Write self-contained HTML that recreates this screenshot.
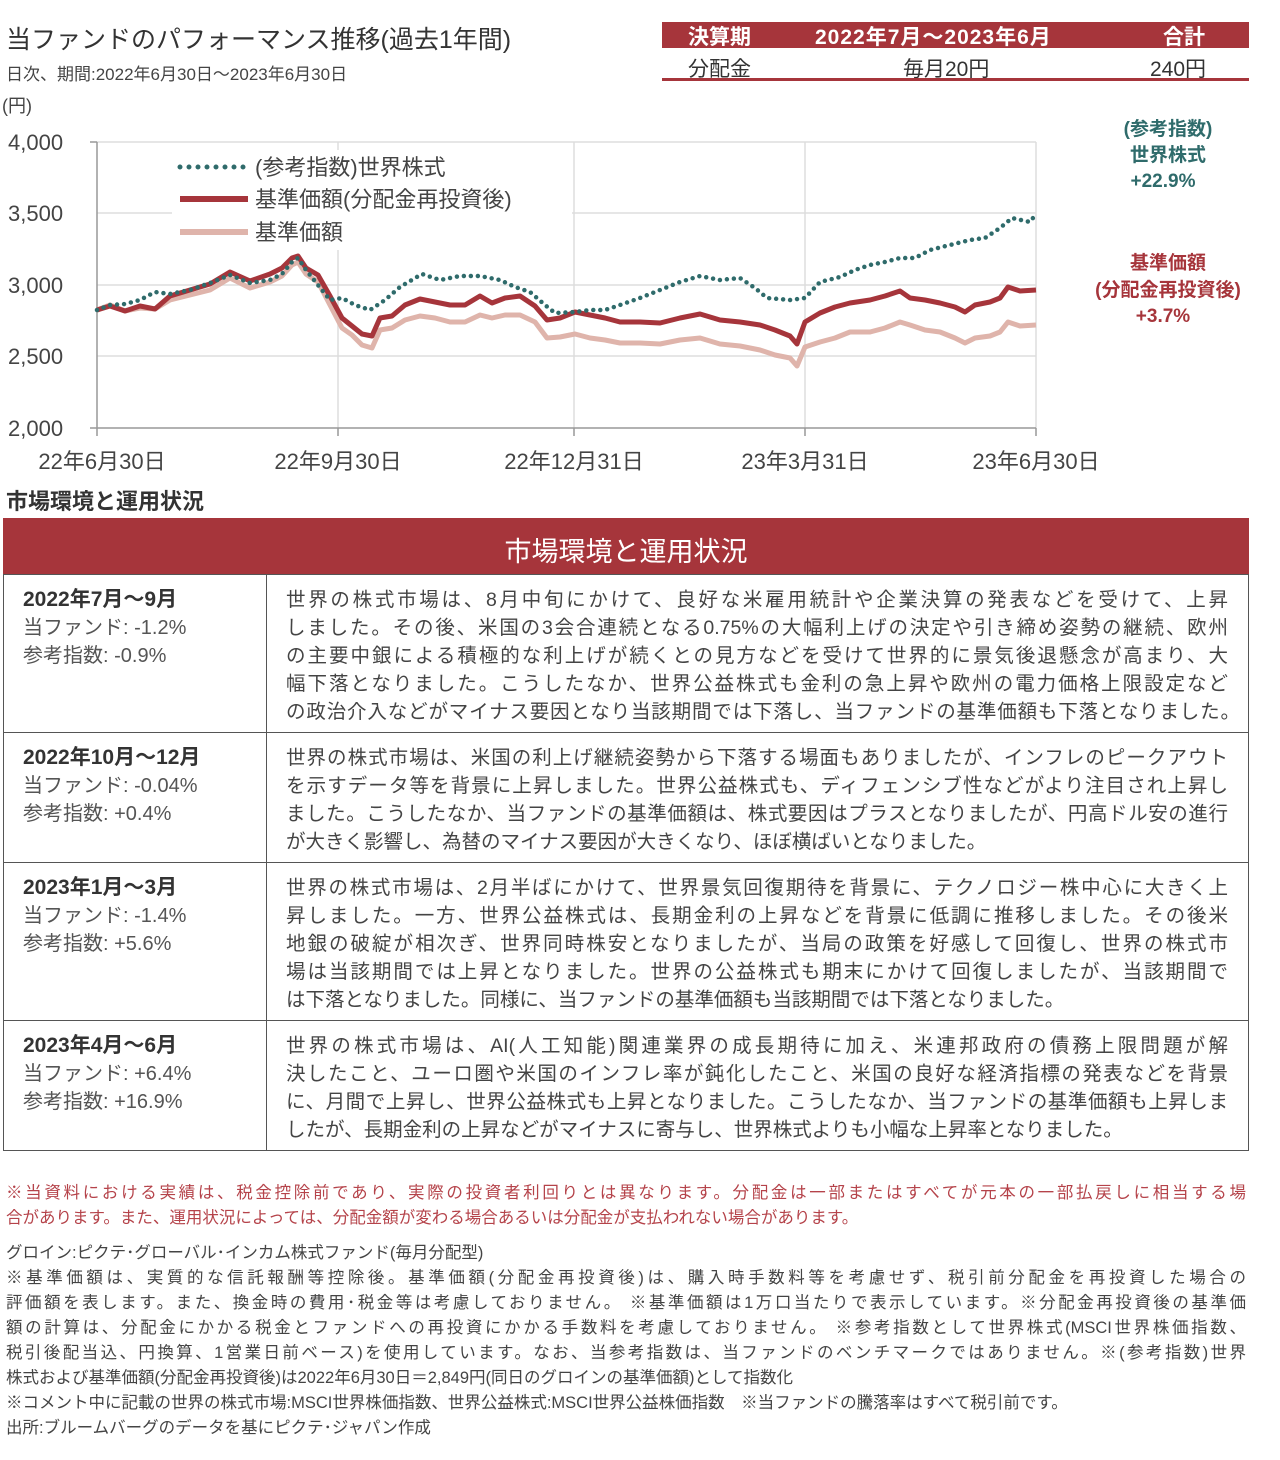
<!DOCTYPE html>
<html><head><meta charset="utf-8"><style>
body{margin:0;width:1280px;height:1460px;background:#fff;position:relative;font-family:"Liberation Sans","Noto Sans CJK JP",sans-serif;color:#333;overflow:hidden}
.a{position:absolute;white-space:nowrap}
.j{position:absolute;white-space:nowrap;text-align:justify;text-align-last:justify}
.cell{position:absolute;border:1px solid #555;box-sizing:border-box}
</style></head><body>
<div class="a" style="left:6px;top:20px;font-size:25px;color:#333">当ファンドのパフォーマンス推移(過去1年間)</div>
<div class="a" style="left:6px;top:60px;font-size:17px;color:#444">日次、期間:2022年6月30日～2023年6月30日</div>
<div class="a" style="left:2px;top:92px;font-size:18px;color:#444">(円)</div>

<div class="a" style="left:662px;top:22px;width:587px;height:26px;background:#a6353b"></div>
<div class="a" style="left:688px;top:21px;font-size:21px;color:#fff;font-weight:bold">決算期</div>
<div class="a" style="left:815px;top:21px;font-size:21px;color:#fff;font-weight:bold;letter-spacing:1px">2022年7月～2023年6月</div>
<div class="a" style="left:1163px;top:21px;font-size:21px;color:#fff;font-weight:bold">合計</div>
<div class="a" style="left:688px;top:53px;font-size:21px;color:#333">分配金</div>
<div class="a" style="left:903px;top:53px;font-size:21px;color:#333">毎月20円</div>
<div class="a" style="left:1150px;top:53px;font-size:21px;color:#333">240円</div>
<div class="a" style="left:662px;top:78px;width:587px;height:3px;background:#a6353b"></div>

<svg class="a" style="left:0;top:0" width="1280" height="480">
<g stroke="#ddd" stroke-width="1.5">
<line x1="97" y1="142" x2="1036" y2="142"/><line x1="97" y1="213" x2="1036" y2="213"/>
<line x1="97" y1="285" x2="1036" y2="285"/><line x1="97" y1="356" x2="1036" y2="356"/>
<line x1="338" y1="142" x2="338" y2="428"/><line x1="574" y1="142" x2="574" y2="428"/>
<line x1="805" y1="142" x2="805" y2="428"/><line x1="1036" y1="142" x2="1036" y2="428"/>
</g>
<g stroke="#999" stroke-width="1.5">
<line x1="97" y1="142" x2="97" y2="428"/><line x1="90" y1="428" x2="1036" y2="428"/>
<line x1="90" y1="142" x2="97" y2="142"/>
<line x1="97" y1="428" x2="97" y2="436"/><line x1="338" y1="428" x2="338" y2="436"/><line x1="574" y1="428" x2="574" y2="436"/><line x1="805" y1="428" x2="805" y2="436"/><line x1="1036" y1="428" x2="1036" y2="436"/>
</g>
<g font-size="22" fill="#444" font-family="Liberation Sans,Noto Sans CJK JP,sans-serif">
<text x="8" y="150">4,000</text><text x="8" y="221">3,500</text><text x="8" y="293">3,000</text><text x="8" y="364">2,500</text><text x="8" y="436">2,000</text>
<text x="102" y="469" text-anchor="middle">22年6月30日</text>
<text x="338" y="469" text-anchor="middle">22年9月30日</text>
<text x="574" y="469" text-anchor="middle">22年12月31日</text>
<text x="805" y="469" text-anchor="middle">23年3月31日</text>
<text x="1036" y="469" text-anchor="middle">23年6月30日</text>
</g>
<polyline fill="none" stroke="#dfb4ab" stroke-width="5" stroke-linejoin="round" points="97,310 110,305 125,311 140,308 155,309 170,300 190,295 210,290 230,278 250,288 270,282 282,276 292,265 298,262 306,274 318,282 330,305 342,328 352,335 362,345 372,348 380,330 392,328 405,320 420,316 435,318 450,322 465,322 480,315 492,318 505,315 520,315 535,322 547,338 560,337 575,334 590,338 605,340 620,343 640,343 660,344 680,340 700,338 720,344 740,346 760,350 775,355 790,358 797,366 805,347 820,342 835,338 850,332 870,332 885,328 900,322 910,325 925,330 940,332 955,338 965,343 975,338 990,336 1000,332 1008,322 1020,326 1036,325"/>
<polyline fill="none" stroke="#a6353b" stroke-width="5" stroke-linejoin="round" points="97,310 110,306 125,311 140,306 155,309 170,296 190,290 210,284 230,272 250,281 270,274 282,268 292,258 298,256 306,268 318,275 330,296 342,318 352,326 362,334 372,336 380,318 392,316 405,305 420,299 435,302 450,305 465,305 480,296 492,303 505,298 520,296 535,306 547,320 560,318 575,312 590,315 605,318 620,322 640,322 660,323 680,318 700,314 720,320 740,322 760,325 775,330 790,336 797,344 805,322 820,313 835,307 850,303 870,300 885,296 900,291 910,298 925,300 940,303 955,307 965,312 975,305 990,302 1000,298 1008,287 1020,291 1036,290"/>
<polyline fill="none" stroke="#2f6b6b" stroke-width="4.5" stroke-linecap="round" stroke-dasharray="0 7" points="97,310 110,305 125,304 140,300 155,292 170,294 190,290 210,283 230,275 250,283 270,280 282,274 292,262 298,258 306,270 318,285 330,300 342,298 355,305 370,310 385,300 400,287 422,274 440,280 460,276 480,276 500,280 515,287 530,292 545,305 555,313 575,312 590,310 605,310 620,305 640,298 660,290 680,282 700,276 720,280 740,278 755,288 767,298 790,300 805,298 820,282 840,277 855,270 870,265 885,262 900,258 915,258 930,250 950,245 970,240 985,238 1000,228 1012,218 1030,222 1036,214"/>
<rect x="172" y="150" width="400" height="100" fill="#fff"/>
<line x1="180" y1="167" x2="245" y2="167" stroke="#2f6b6b" stroke-width="5" stroke-linecap="round" stroke-dasharray="0 9"/>
<line x1="180" y1="199" x2="248" y2="199" stroke="#a6353b" stroke-width="6"/>
<line x1="180" y1="232" x2="248" y2="232" stroke="#dfb4ab" stroke-width="6"/>
<g font-size="22" fill="#444" font-family="Liberation Sans,Noto Sans CJK JP,sans-serif">
<text x="255" y="175">(参考指数)世界株式</text>
<text x="255" y="207">基準価額(分配金再投資後)</text>
<text x="255" y="240">基準価額</text>
</g>
<g font-size="19" font-weight="bold" text-anchor="middle" font-family="Liberation Sans,Noto Sans CJK JP,sans-serif">
<text x="1168" y="135" fill="#2f6b6b">(参考指数)</text>
<text x="1168" y="161" fill="#2f6b6b">世界株式</text>
<text x="1163" y="187" fill="#2f6b6b">+22.9%</text>
<text x="1168" y="269" fill="#a6353b">基準価額</text>
<text x="1168" y="296" fill="#a6353b">(分配金再投資後)</text>
<text x="1163" y="322" fill="#a6353b">+3.7%</text>
</g>
</svg>

<div class="a" style="left:6px;top:484px;font-size:22px;font-weight:bold;color:#333">市場環境と運用状況</div>
<div class="a" style="left:3px;top:518px;width:1246px;height:57px;background:#a6353b"></div>
<div class="a" style="left:3px;top:530px;width:1246px;text-align:center;font-size:27px;color:#fff">市場環境と運用状況</div>

<div class="cell" style="left:3px;top:574px;width:264px;height:159px"></div>
<div class="cell" style="left:266px;top:574px;width:983px;height:159px"></div>
<div class="cell" style="left:3px;top:732px;width:264px;height:131px"></div>
<div class="cell" style="left:266px;top:732px;width:983px;height:131px"></div>
<div class="cell" style="left:3px;top:862px;width:264px;height:159px"></div>
<div class="cell" style="left:266px;top:862px;width:983px;height:159px"></div>
<div class="cell" style="left:3px;top:1020px;width:264px;height:131px"></div>
<div class="cell" style="left:266px;top:1020px;width:983px;height:131px"></div>

<div style="position:absolute;left:23px;top:586px;font-size:21px;line-height:28px;color:#333;white-space:nowrap"><b style="font-weight:600">2022年7月～9月</b><br><span style="font-size:20px;color:#555">当ファンド: -1.2%<br>参考指数: -0.9%</span></div>
<div style="position:absolute;left:23px;top:744px;font-size:21px;line-height:28px;color:#333;white-space:nowrap"><b style="font-weight:600">2022年10月～12月</b><br><span style="font-size:20px;color:#555">当ファンド: -0.04%<br>参考指数: +0.4%</span></div>
<div style="position:absolute;left:23px;top:874px;font-size:21px;line-height:28px;color:#333;white-space:nowrap"><b style="font-weight:600">2023年1月～3月</b><br><span style="font-size:20px;color:#555">当ファンド: -1.4%<br>参考指数: +5.6%</span></div>
<div style="position:absolute;left:23px;top:1032px;font-size:21px;line-height:28px;color:#333;white-space:nowrap"><b style="font-weight:600">2023年4月～6月</b><br><span style="font-size:20px;color:#555">当ファンド: +6.4%<br>参考指数: +16.9%</span></div>

<div style="position:absolute;left:286px;top:586px;font-size:19.5px;line-height:28px;color:#444">
<div class="j" style="position:relative;width:942px">世界の株式市場は、8月中旬にかけて、良好な米雇用統計や企業決算の発表などを受けて、上昇</div>
<div class="j" style="position:relative;width:942px">しました。その後、米国の3会合連続となる0.75%の大幅利上げの決定や引き締め姿勢の継続、欧州</div>
<div class="j" style="position:relative;width:942px">の主要中銀による積極的な利上げが続くとの見方などを受けて世界的に景気後退懸念が高まり、大</div>
<div class="j" style="position:relative;width:942px">幅下落となりました。こうしたなか、世界公益株式も金利の急上昇や欧州の電力価格上限設定など</div>
<div class="j" style="position:relative;width:954px">の政治介入などがマイナス要因となり当該期間では下落し、当ファンドの基準価額も下落となりました。</div>
</div>
<div style="position:absolute;left:286px;top:744px;font-size:19.5px;line-height:28px;color:#444">
<div class="j" style="position:relative;width:942px">世界の株式市場は、米国の利上げ継続姿勢から下落する場面もありましたが、インフレのピークアウト</div>
<div class="j" style="position:relative;width:942px">を示すデータ等を背景に上昇しました。世界公益株式も、ディフェンシブ性などがより注目され上昇し</div>
<div class="j" style="position:relative;width:942px">ました。こうしたなか、当ファンドの基準価額は、株式要因はプラスとなりましたが、円高ドル安の進行</div>
<div class="a" style="position:relative">が大きく影響し、為替のマイナス要因が大きくなり、ほぼ横ばいとなりました。</div>
</div>
<div style="position:absolute;left:286px;top:874px;font-size:19.5px;line-height:28px;color:#444">
<div class="j" style="position:relative;width:942px">世界の株式市場は、2月半ばにかけて、世界景気回復期待を背景に、テクノロジー株中心に大きく上</div>
<div class="j" style="position:relative;width:942px">昇しました。一方、世界公益株式は、長期金利の上昇などを背景に低調に推移しました。その後米</div>
<div class="j" style="position:relative;width:942px">地銀の破綻が相次ぎ、世界同時株安となりましたが、当局の政策を好感して回復し、世界の株式市</div>
<div class="j" style="position:relative;width:942px">場は当該期間では上昇となりました。世界の公益株式も期末にかけて回復しましたが、当該期間で</div>
<div class="a" style="position:relative">は下落となりました。同様に、当ファンドの基準価額も当該期間では下落となりました。</div>
</div>
<div style="position:absolute;left:286px;top:1032px;font-size:19.5px;line-height:28px;color:#444">
<div class="j" style="position:relative;width:942px">世界の株式市場は、AI(人工知能)関連業界の成長期待に加え、米連邦政府の債務上限問題が解</div>
<div class="j" style="position:relative;width:942px">決したこと、ユーロ圏や米国のインフレ率が鈍化したこと、米国の良好な経済指標の発表などを背景</div>
<div class="j" style="position:relative;width:942px">に、月間で上昇し、世界公益株式も上昇となりました。こうしたなか、当ファンドの基準価額も上昇しま</div>
<div class="a" style="position:relative">したが、長期金利の上昇などがマイナスに寄与し、世界株式よりも小幅な上昇率となりました。</div>
</div>

<div style="position:absolute;left:6px;top:1181px;font-size:16.5px;line-height:25px;color:#b5434a">
<div class="j" style="position:relative;width:1240px">※当資料における実績は、税金控除前であり、実際の投資者利回りとは異なります。分配金は一部またはすべてが元本の一部払戻しに相当する場</div>
<div style="white-space:nowrap">合があります。また、運用状況によっては、分配金額が変わる場合あるいは分配金が支払われない場合があります。</div>
</div>
<div style="position:absolute;left:6px;top:1241px;font-size:16.5px;line-height:25px;color:#444">
<div style="white-space:nowrap">グロイン:ピクテ･グローバル･インカム株式ファンド(毎月分配型)</div>
<div class="j" style="position:relative;width:1240px">※基準価額は、実質的な信託報酬等控除後。基準価額(分配金再投資後)は、購入時手数料等を考慮せず、税引前分配金を再投資した場合の</div>
<div class="j" style="position:relative;width:1240px">評価額を表します。また、換金時の費用･税金等は考慮しておりません。 ※基準価額は1万口当たりで表示しています。※分配金再投資後の基準価</div>
<div class="j" style="position:relative;width:1240px">額の計算は、分配金にかかる税金とファンドへの再投資にかかる手数料を考慮しておりません。 ※参考指数として世界株式(MSCI世界株価指数、</div>
<div class="j" style="position:relative;width:1240px">税引後配当込、円換算、1営業日前ベース)を使用しています。なお、当参考指数は、当ファンドのベンチマークではありません。※(参考指数)世界</div>
<div style="white-space:nowrap">株式および基準価額(分配金再投資後)は2022年6月30日＝2,849円(同日のグロインの基準価額)として指数化</div>
<div style="white-space:nowrap">※コメント中に記載の世界の株式市場:MSCI世界株価指数、世界公益株式:MSCI世界公益株価指数　※当ファンドの騰落率はすべて税引前です。</div>
<div style="white-space:nowrap">出所:ブルームバーグのデータを基にピクテ･ジャパン作成</div>
</div>
</body></html>
